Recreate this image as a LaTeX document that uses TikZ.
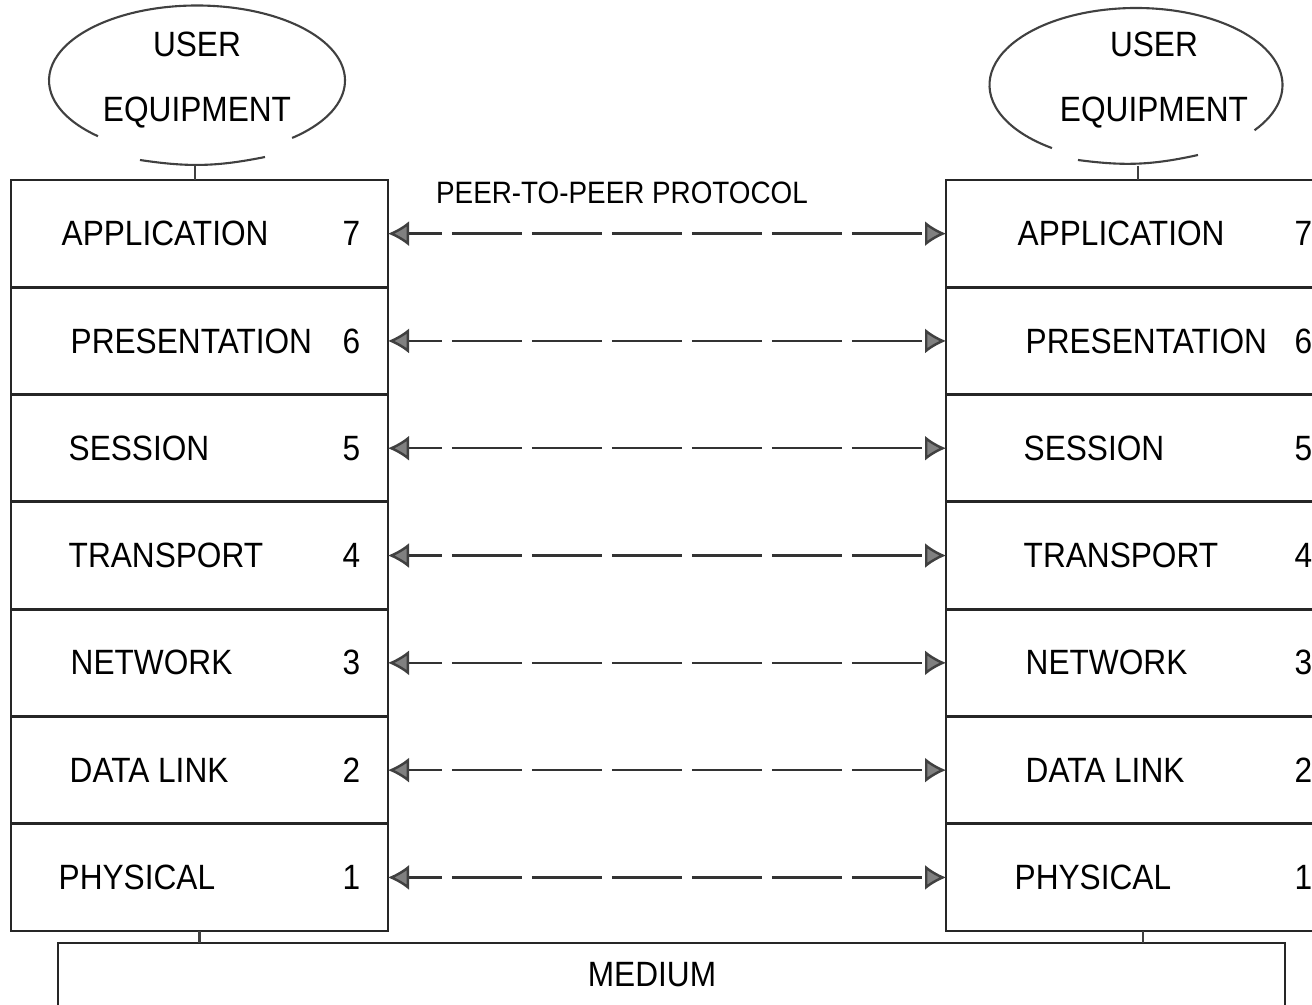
\documentclass[tikz,border=0pt]{standalone}
\usepackage{fontspec}
\setmainfont{Liberation Sans}[FakeStretch=0.9]
\usetikzlibrary{positioning,arrows.meta}

\tikzset{
  layer/.style={draw=black!85, line width=0.8pt, inner sep=0pt, outer sep=0pt,
    minimum height=1.073cm},
  ltxt/.style={anchor=west, xshift=#1, inner sep=0pt, font=\fontsize{10}{12}\selectfont},
  ltxt/.default=0.47cm,
  num/.style={anchor=center, xshift=-0.365cm, font=\fontsize{10}{12}\selectfont},
  peer/.style={black!80, line width=0.7pt, dash pattern=on 7mm off 1mm,
    dash phase=3.6mm, <->},
  bubble/.style={black!75, line width=0.6pt},
  utxt/.style={align=center, font=\fontsize{10}{18.5}\selectfont},
  >={Latex[length=2.1mm, width=2.5mm, color=black!75, fill=black!50]}
}

\begin{document}
\begin{tikzpicture}
  \useasboundingbox (0,0) rectangle (13.12,-10.05);
  \clip (0,0) rectangle (13.12,-10.05);

  % User equipment, left
  \node[utxt] (user1) at (1.97,-0.805) {USER\\EQUIPMENT};
  \draw[bubble] (user1.center) ++(-50:1.48 and 0.75)
    arc[start angle=-50, end angle=228, x radius=1.48, y radius=0.75];
  \coordinate (cap1) at (1.95,-1.655);
  \draw[bubble] (1.40,-1.60) to[bend right=10] (2.65,-1.57);

  % User equipment, right
  \node[utxt] (user2) at (11.54,-0.80) {USER\\EQUIPMENT};
  \draw[bubble] (user2.center) ++(-0.18,-0.05) ++(-36:1.465 and 0.77)
    arc[start angle=-36, end angle=235, x radius=1.465, y radius=0.77];
  \coordinate (cap2) at (11.38,-1.66);
  \draw[bubble] (10.78,-1.60) to[bend right=10] (11.98,-1.55);

  % Left stack
  \node[layer, minimum width=3.77cm, anchor=north west] (L7) at (0.11,-1.80)
    [label={[ltxt=0.50cm]west:APPLICATION}, label={[num]east:7}] {};
  \node[layer, minimum width=3.77cm, below=0pt of L7] (L6)
    [label={[ltxt=0.59cm]west:PRESENTATION}, label={[num]east:6}] {};
  \node[layer, minimum width=3.77cm, below=0pt of L6] (L5)
    [label={[ltxt=0.57cm]west:SESSION}, label={[num]east:5}] {};
  \node[layer, minimum width=3.77cm, below=0pt of L5] (L4)
    [label={[ltxt=0.57cm]west:TRANSPORT}, label={[num]east:4}] {};
  \node[layer, minimum width=3.77cm, below=0pt of L4] (L3)
    [label={[ltxt=0.59cm]west:NETWORK}, label={[num]east:3}] {};
  \node[layer, minimum width=3.77cm, below=0pt of L3] (L2)
    [label={[ltxt=0.58cm]west:DATA LINK}, label={[num]east:2}] {};
  \node[layer, minimum width=3.77cm, below=0pt of L2] (L1)
    [label={[ltxt=0.47cm]west:PHYSICAL}, label={[num]east:1}] {};

  % Right stack
  \node[layer, minimum width=3.94cm, anchor=north west] (R7) at (9.46,-1.80)
    [label={[ltxt=0.71cm]west:APPLICATION}, label={[num]east:7}] {};
  \node[layer, minimum width=3.94cm, below=0pt of R7] (R6)
    [label={[ltxt=0.79cm]west:PRESENTATION}, label={[num]east:6}] {};
  \node[layer, minimum width=3.94cm, below=0pt of R6] (R5)
    [label={[ltxt=0.77cm]west:SESSION}, label={[num]east:5}] {};
  \node[layer, minimum width=3.94cm, below=0pt of R5] (R4)
    [label={[ltxt=0.77cm]west:TRANSPORT}, label={[num]east:4}] {};
  \node[layer, minimum width=3.94cm, below=0pt of R4] (R3)
    [label={[ltxt=0.79cm]west:NETWORK}, label={[num]east:3}] {};
  \node[layer, minimum width=3.94cm, below=0pt of R3] (R2)
    [label={[ltxt=0.79cm]west:DATA LINK}, label={[num]east:2}] {};
  \node[layer, minimum width=3.94cm, below=0pt of R2] (R1)
    [label={[ltxt=0.68cm]west:PHYSICAL}, label={[num]east:1}] {};

  % Ticks to the stacks
  \draw[bubble] (cap1) -- (cap1 |- L7.north);
  \draw[bubble] (cap2) -- (cap2 |- R7.north);

  % Medium
  \node[layer, minimum width=12.27cm, minimum height=1.2cm, anchor=north west]
    (medium) at (0.58,-9.43) {};
  \node[font=\fontsize{10}{12}\selectfont] (medtxt) at (6.52,-9.75) {MEDIUM};
  \draw[bubble] (L1.south) -- (L1.south |- medium.north);
  \draw[bubble] (R1.south) -- (R1.south |- medium.north);

  % Peer-to-peer protocol
  \node[font=\fontsize{8.8}{10}\selectfont] (ptxt) at (6.22,-1.925)
    {PEER-TO-PEER PROTOCOL};
  \draw[peer] (L7.east) -- (R7.west);
  \draw[peer] (L6.east) -- (R6.west);
  \draw[peer] (L5.east) -- (R5.west);
  \draw[peer] (L4.east) -- (R4.west);
  \draw[peer] (L3.east) -- (R3.west);
  \draw[peer] (L2.east) -- (R2.west);
  \draw[peer] (L1.east) -- (R1.west);
\end{tikzpicture}
\end{document}
